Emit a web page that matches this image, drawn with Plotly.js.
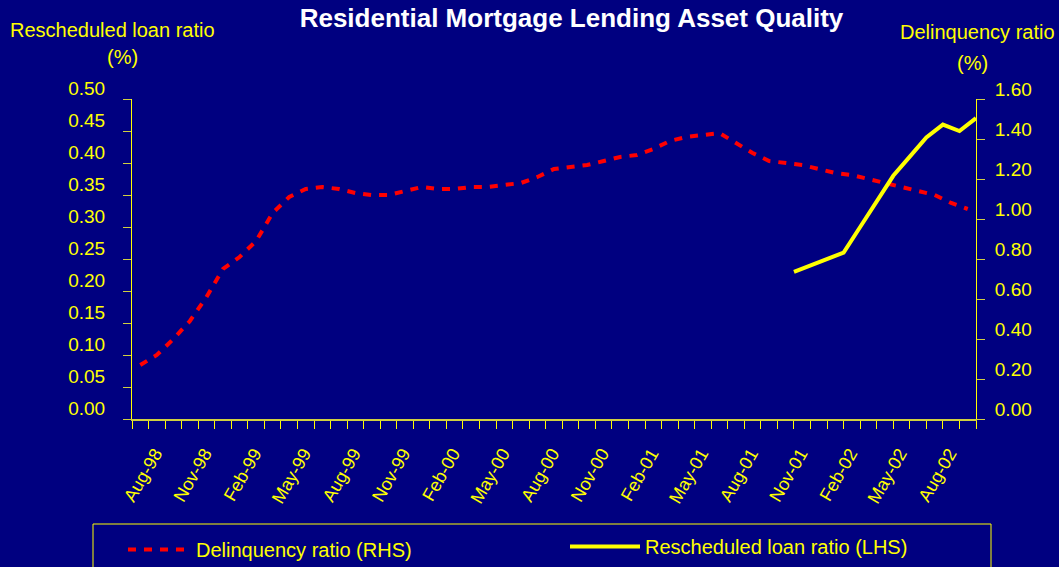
<!DOCTYPE html>
<html>
<head>
<meta charset="utf-8">
<script src="https://cdn.plot.ly/plotly-3.0.1.min.js"></script>
<style>
html,body{margin:0;padding:0;background:#000080;}
#chart{width:1059px;height:567px;}
</style>
</head>
<body>
<div id="chart"></div>
<script>
// Monthly categories of the chart
const months = [
  'Jul-98','Aug-98','Sep-98','Oct-98','Nov-98','Dec-98',
  'Jan-99','Feb-99','Mar-99','Apr-99','May-99','Jun-99','Jul-99','Aug-99','Sep-99','Oct-99','Nov-99','Dec-99',
  'Jan-00','Feb-00','Mar-00','Apr-00','May-00','Jun-00','Jul-00','Aug-00','Sep-00','Oct-00','Nov-00','Dec-00',
  'Jan-01','Feb-01','Mar-01','Apr-01','May-01','Jun-01','Jul-01','Aug-01','Sep-01','Oct-01','Nov-01','Dec-01',
  'Jan-02','Feb-02','Mar-02','Apr-02','May-02','Jun-02','Jul-02','Aug-02','Sep-02'
];
// Delinquency ratio (%), right-hand scale
const delinquencyRatio = [
  0.27,0.32,0.40,0.49,0.61,0.75,
  0.81,0.89,1.03,1.11,1.15,1.16,1.15,1.13,1.12,1.12,1.14,1.16,
  1.15,1.15,1.16,1.16,1.17,1.18,1.21,1.25,1.26,1.27,1.29,1.31,
  1.32,1.35,1.39,1.41,1.42,1.43,1.38,1.33,1.29,1.28,1.27,1.25,
  1.23,1.22,1.20,1.18,1.16,1.14,1.12,1.08,1.05
];
// Rescheduled loan ratio (%), left-hand scale
const rescheduledMonths = ['Oct-01','Jan-02','Feb-02','Mar-02','Apr-02','May-02','Jun-02','Jul-02','Aug-02','Sep-02'];
const rescheduledRatio  = [0.23,0.26,0.30,0.34,0.38,0.41,0.44,0.46,0.45,0.47];
// Labelled months on the category axis
const tickMonths = ['Aug-98','Nov-98','Feb-99','May-99','Aug-99','Nov-99','Feb-00','May-00',
  'Aug-00','Nov-00','Feb-01','May-01','Aug-01','Nov-01','Feb-02','May-02','Aug-02'];

const FONT = 'Arial, "Liberation Sans", sans-serif';
const YEL = '#ffff00';
const TICKC = '#d0d040';
const W = 1059, H = 567;

const idx = m => months.indexOf(m);
// primary series sits between tick marks, secondary series on the tick marks
const redX = months.map((m, i) => i);
const yelX = rescheduledMonths.map(m => idx(m) + 0.5);
const tickVals = tickMonths.map(m => idx(m) + 0.5);

const traces = [
  {
    name: 'Delinquency ratio (RHS)',
    x: redX, y: delinquencyRatio,
    type: 'scatter', mode: 'lines',
    line: {color: '#ff0000', width: 4, dash: '8px,8px'},
    yaxis: 'y', xaxis: 'x',
    legend: 'legend',
    hoverinfo: 'skip'
  },
  {
    name: 'Rescheduled loan ratio (LHS)',
    x: yelX, y: rescheduledRatio,
    type: 'scatter', mode: 'lines',
    line: {color: YEL, width: 4},
    yaxis: 'y2', xaxis: 'x',
    legend: 'legend2',
    hoverinfo: 'skip'
  }
];

const legendBase = {
  orientation: 'h',
  xref: 'paper', yref: 'container',
  xanchor: 'left', yanchor: 'top',
  bgcolor: 'rgba(0,0,0,0)', borderwidth: 0,
  font: {family: FONT, size: 20, color: YEL}
};

const layout = {
  width: W, height: H,
  margin: {l: 132, r: 83, t: 99, b: 148},
  paper_bgcolor: '#000080',
  plot_bgcolor: '#000080',
  font: {family: FONT, color: YEL, size: 19},
  showlegend: true,
  title: {
    text: '<b>Residential Mortgage Lending Asset Quality</b>',
    font: {family: FONT, size: 26, color: '#ffffff'},
    x: 571.5 / W, xref: 'container', xanchor: 'center',
    y: 1 - 18 / H, yref: 'container', yanchor: 'middle'
  },
  xaxis: {
    type: 'linear',
    range: [-0.5, months.length - 0.5],
    automargin: false,
    showgrid: false, zeroline: false,
    showline: true, linecolor: TICKC, linewidth: 2,
    tickmode: 'array', tickvals: tickVals, ticktext: tickMonths,
    tickangle: -60,
    ticks: 'outside', ticklen: 8, tickcolor: YEL, tickwidth: 1,
    tickfont: {family: FONT, size: 18, color: YEL},
    ticklabelshift: -10,
    ticklabelstandoff: 7,
    minor: {tick0: 0.5, dtick: 1, ticks: 'outside', ticklen: 8, tickcolor: YEL, tickwidth: 1, showgrid: false},
    fixedrange: true
  },
  yaxis: {
    side: 'right',
    automargin: false,
    range: [0, 1.6], dtick: 0.2, tick0: 0, tickformat: '.2f',
    showgrid: false, zeroline: false,
    showline: true, linecolor: YEL, linewidth: 1,
    ticks: 'outside', ticklen: 8, tickcolor: TICKC,
    tickfont: {family: FONT, size: 19, color: YEL},
    ticklabelshift: -10,
    ticklabelstandoff: 6,
    fixedrange: true
  },
  yaxis2: {
    overlaying: 'y', side: 'left',
    automargin: false,
    range: [0, 0.5], dtick: 0.05, tick0: 0, tickformat: '.2f',
    showgrid: false, zeroline: false,
    showline: true, linecolor: YEL, linewidth: 1,
    ticks: 'outside', ticklen: 8, tickcolor: TICKC,
    tickfont: {family: FONT, size: 19, color: YEL},
    ticklabelshift: -11,
    ticklabelstandoff: 14,
    fixedrange: true
  },
  yaxis3: {
    overlaying: 'y', side: 'right',
    automargin: false,
    range: [0, 1.6], dtick: 0.2, tick0: 0,
    showgrid: false, zeroline: false, showline: false,
    ticks: 'inside', ticklen: 8, tickcolor: TICKC,
    showticklabels: false,
    fixedrange: true
  },
  legend: Object.assign({}, legendBase, {
    x: (123 - 132) / 844,
    y: 1 - 530 / H,
    itemwidth: 63
  }),
  legend2: Object.assign({}, legendBase, {
    x: (565 - 132) / 844,
    y: 1 - 527 / H,
    itemwidth: 70
  }),
  shapes: [{
    type: 'rect', xref: 'paper', yref: 'paper',
    x0: (93 - 132) / 844, x1: (991 - 132) / 844,
    y0: (419 - 524) / 320, y1: -0.6,
    line: {color: YEL, width: 1}, fillcolor: 'rgba(0,0,0,0)', layer: 'below'
  }],
  annotations: [
    {text: 'Rescheduled loan ratio', xref: 'paper', yref: 'paper', x: (112 - 132) / 844, y: (419 - 30) / 320,
     xanchor: 'center', yanchor: 'middle', showarrow: false, font: {family: FONT, size: 20, color: YEL}},
    {text: '(%)', xref: 'paper', yref: 'paper', x: (122 - 132) / 844, y: (419 - 57) / 320,
     xanchor: 'center', yanchor: 'middle', showarrow: false, font: {family: FONT, size: 20, color: YEL}},
    {text: 'Delinquency ratio', xref: 'paper', yref: 'paper', x: (977 - 132) / 844, y: (419 - 32) / 320,
     xanchor: 'center', yanchor: 'middle', showarrow: false, font: {family: FONT, size: 20, color: YEL}},
    {text: '(%)', xref: 'paper', yref: 'paper', x: (972 - 132) / 844, y: (419 - 63) / 320,
     xanchor: 'center', yanchor: 'middle', showarrow: false, font: {family: FONT, size: 20, color: YEL}}
  ]
};

Plotly.newPlot('chart', traces, layout, {displayModeBar: false, staticPlot: true});
</script>
</body>
</html>
